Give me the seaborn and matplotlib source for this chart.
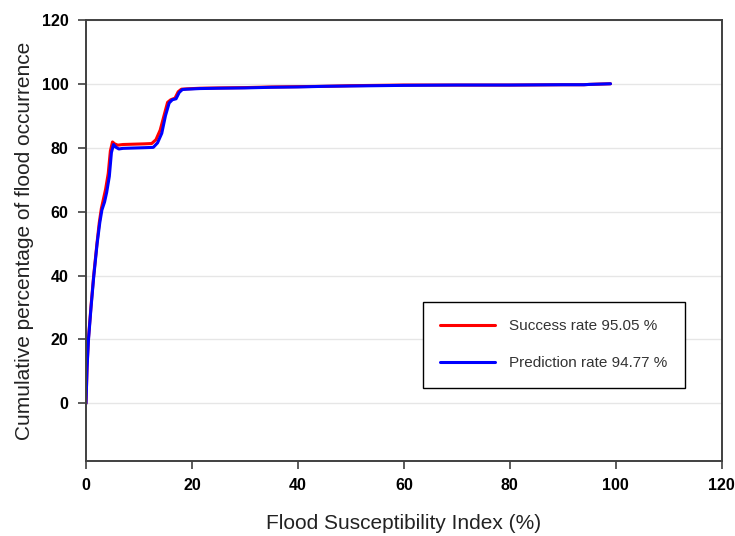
import pandas as pd
import seaborn as sns
import matplotlib.pyplot as plt

# Values
success_x = [0, 0.2, 0.45, 0.95, 1.45, 2.1, 2.5, 2.9, 3.3, 3.7, 4.2, 4.6, 5.0, 5.4, 6.0,
             7, 9, 11, 12.4, 13.2, 14.0, 14.8, 15.4, 16.0, 16.8, 17.4, 18.0, 19, 21.5,
             25, 30, 35, 40, 45, 50, 55, 60, 70, 80, 90, 94, 95, 97, 99]
success_y = [0, 11.5, 20, 30.5, 40, 50.5, 56.5, 61, 64, 67, 72, 79, 81.8, 81.2, 80.8,
             81, 81.1, 81.2, 81.3, 82.5, 85.5, 90.5, 94.2, 95, 95.5, 97.5, 98.3, 98.4, 98.6,
             98.7, 98.8, 99, 99.1, 99.2, 99.4, 99.5, 99.6, 99.6, 99.6, 99.7, 99.7, 99.8, 99.9, 100]

pred_x = [0, 0.2, 0.45, 0.95, 1.45, 2.1, 2.6, 3.0, 3.5, 3.9, 4.4, 4.8, 5.2, 5.6, 6.2,
          7, 9, 11, 12.7, 13.5, 14.3, 15.0, 15.7, 16.3, 17.0, 17.6, 18.2, 19, 21.5,
          25, 30, 35, 40, 45, 50, 55, 60, 70, 80, 90, 94, 95, 97, 99]
pred_y = [0, 11, 19.5, 30, 39.5, 50, 56.5, 60.5, 63, 66, 71, 78.5, 81.0, 80.2, 79.6,
          79.8, 79.9, 80, 80.1, 81.5, 84.5, 90, 94, 95, 95.3, 97.3, 98.2, 98.3, 98.5,
          98.6, 98.7, 98.9, 99.0, 99.2, 99.3, 99.4, 99.5, 99.6, 99.6, 99.7, 99.7, 99.8, 99.9, 100]

labels = ["Success rate 95.05 %", "Prediction rate 94.77 %"]
colors = ["#ff0000", "#0000ff"]

x_ticks = [0, 20, 40, 60, 80, 100, 120]
y_ticks = [0, 20, 40, 60, 80, 100, 120]

df = pd.concat([
    pd.DataFrame({"fsi": success_x, "cum": success_y, "series": labels[0]}),
    pd.DataFrame({"fsi": pred_x, "cum": pred_y, "series": labels[1]}),
])

sns.set_theme(style="white")
plt.rcParams["font.family"] = ["Liberation Sans", "DejaVu Sans"]

fig = plt.figure(figsize=(7.35, 5.36), dpi=100)
ax = fig.add_axes([0.117, 0.14, 0.865, 0.823])

sns.lineplot(
    data=df,
    x="fsi",
    y="cum",
    hue="series",
    hue_order=labels,
    palette=dict(zip(labels, colors)),
    linewidth=2.2,
    sort=False,
    ax=ax,
)

ax.set_xlim(0, 120)
ax.set_ylim(-18, 120)
ax.set_xticks(x_ticks)
ax.set_yticks(y_ticks)
ax.yaxis.grid(True, color="#e6e6e6", linewidth=1)
ax.set_axisbelow(True)

for side in ["left", "right", "top", "bottom"]:
    ax.spines[side].set_color("#404040")
    ax.spines[side].set_linewidth(1.4)

ax.tick_params(axis="both", which="major", direction="out", length=6, width=1.2,
               color="#404040", labelsize=11.5, labelcolor="black",
               left=True, bottom=True, pad=6.5)
for lab in ax.get_xticklabels() + ax.get_yticklabels():
    lab.set_fontweight("bold")

ax.set_xlabel("Flood Susceptibility Index (%)", fontsize=15, labelpad=15, color="#222222")
ax.set_ylabel("Cumulative percentage of flood occurrence", fontsize=15, labelpad=6,
              color="#222222")

leg = ax.legend(
    loc="center",
    bbox_to_anchor=(0.736, 0.263),
    fontsize=11,
    frameon=True,
    fancybox=False,
    edgecolor="black",
    framealpha=1,
    handlelength=3.6,
    handletextpad=0.9,
    labelspacing=1.5,
    borderpad=1.15,
)
leg.get_frame().set_linewidth(1.0)
for text in leg.get_texts():
    text.set_color("#333333")
for line in leg.get_lines():
    line.set_linewidth(2.2)

plt.savefig("out.png", dpi=100)
plt.close()
